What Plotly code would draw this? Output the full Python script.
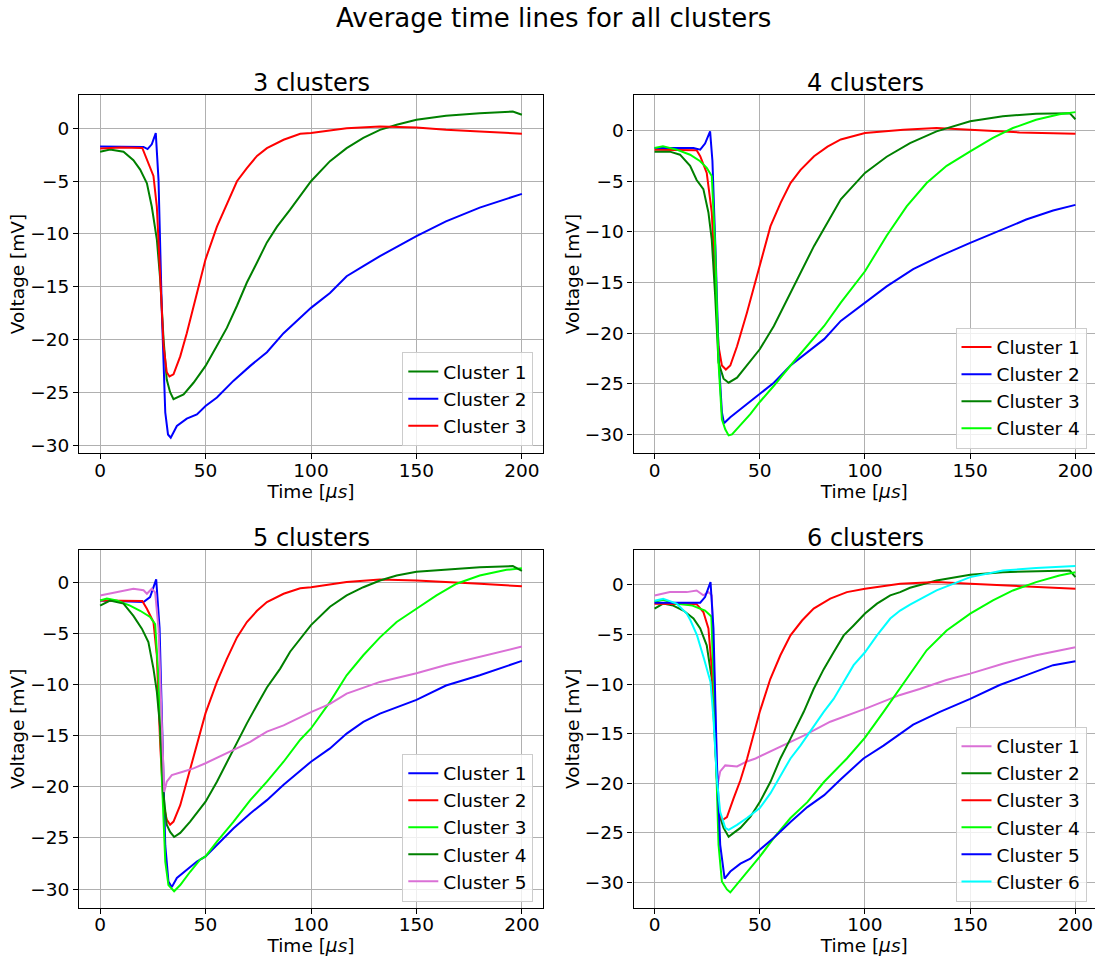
import plotly.graph_objects as go

# ---------------- data ----------------
# Panel 1: 3 clusters
P1_C1_T = [0, 4.7, 11.1, 15.8, 19, 22.2, 24.5, 26.9, 28.5, 30.1, 31.6, 33.2, 34.8, 36.4, 39.6, 44.3, 50, 55.4, 60.1, 64.9, 69.6, 74.4, 79.1, 83.9, 90.1, 100, 109, 116.9, 124.8, 132.7, 140.6, 150, 164, 180, 195.7, 200]
P1_C1_V = [-2.2, -2.0, -2.2, -3.0, -3.9, -5.2, -7.4, -10.5, -14.3, -20.0, -23.8, -25.0, -25.65, -25.5, -25.2, -24.1, -22.5, -20.6, -18.9, -16.8, -14.6, -12.7, -10.8, -9.3, -7.7, -5.0, -3.1, -1.86, -0.9, -0.13, 0.35, 0.82, 1.2, 1.45, 1.6, 1.3]
P1_C2_T = [0, 20.6, 22.5, 24.5, 26.4, 27.7, 29.3, 30.9, 32.2, 33.5, 36.4, 41.1, 45.9, 50, 55.4, 63.3, 71.2, 79.1, 87, 100, 109, 116.9, 124.8, 132.7, 150, 164, 180, 200]
P1_C2_V = [-1.7, -1.75, -1.95, -1.5, -0.44, -4.85, -17.5, -26.9, -29.0, -29.3, -28.2, -27.5, -27.1, -26.3, -25.5, -23.9, -22.5, -21.2, -19.4, -17.0, -15.6, -14.0, -13.05, -12.1, -10.2, -8.8, -7.5, -6.2]
P1_C3_T = [0, 10, 20, 22.2, 25.3, 26.9, 28.5, 30.1, 31.6, 32.9, 34.8, 38, 41.1, 44.3, 47.5, 50, 55.4, 60.1, 64.9, 69.6, 74.4, 79.1, 87, 94.9, 100, 116.9, 132.7, 150, 164, 180, 200]
P1_C3_V = [-1.9, -1.8, -1.85, -3.0, -4.5, -7.4, -14.3, -20.6, -23.1, -23.5, -23.3, -21.6, -19.4, -16.8, -14.3, -12.4, -9.3, -7.1, -5.0, -3.75, -2.6, -1.86, -1.07, -0.5, -0.44, 0.03, 0.19, 0.1, -0.13, -0.28, -0.5]

# Panel 2: 4 clusters
P2_C1_T = [0, 10, 20, 21.7, 24.8, 27.2, 28.8, 30.4, 32, 33.9, 36, 39.2, 43.9, 50, 55.1, 59.9, 64.6, 69.4, 75.8, 82.2, 88.5, 100, 118.2, 134, 150, 173.4, 200]
P2_C1_V = [-1.9, -1.9, -1.95, -2.55, -4.2, -8.1, -14.7, -21.3, -23.2, -23.6, -23.2, -21.3, -18.0, -13.4, -9.45, -7.15, -5.2, -3.9, -2.55, -1.6, -0.9, -0.26, 0.07, 0.23, 0.07, -0.2, -0.33]
P2_C2_T = [0, 18.5, 21.7, 24, 26.4, 27.5, 29, 30.5, 32, 33, 36, 40.8, 45.5, 50, 56.7, 64.6, 72.6, 80.6, 88.5, 100, 110.3, 122.9, 135.6, 150, 164, 176.6, 189.4, 200]
P2_C2_V = [-1.74, -1.75, -1.9, -1.3, -0.1, -3.0, -12.0, -22.5, -27.8, -28.9, -28.3, -27.5, -26.8, -26.0, -24.9, -23.2, -21.9, -20.6, -18.8, -17.0, -15.4, -13.7, -12.4, -11.1, -9.9, -8.8, -7.9, -7.35]
P2_C3_T = [0, 7.3, 12.1, 16.9, 20, 23.2, 25.6, 27.2, 28.8, 30.4, 32.8, 35.2, 39.2, 43.9, 50, 56.7, 63.1, 69.4, 75.8, 82.2, 88.5, 100, 110.3, 121.4, 134, 150, 165.5, 181.3, 197.3, 200]
P2_C3_V = [-2.1, -2.1, -2.4, -3.5, -4.9, -5.8, -8.1, -10.8, -16.3, -22.9, -24.5, -24.9, -24.4, -23.2, -21.6, -19.3, -16.7, -14.0, -11.4, -9.1, -6.8, -4.2, -2.6, -1.25, -0.1, 0.9, 1.4, 1.64, 1.7, 1.1]
P2_C4_T = [0, 4, 10.5, 16.9, 21.7, 24.8, 27.2, 28.8, 30.4, 32, 33.6, 35.2, 36.8, 40.8, 45.5, 50, 56.7, 64.6, 72.6, 80.6, 88.5, 100, 110.3, 119.8, 129.3, 138.8, 150, 160.8, 170.3, 181.3, 192.4, 200]
P2_C4_V = [-1.74, -1.58, -1.9, -2.4, -3.05, -3.7, -4.5, -11.4, -22.9, -28.5, -29.5, -30.1, -30.0, -29.1, -28.0, -26.8, -25.2, -23.2, -21.3, -19.3, -17.0, -13.9, -10.4, -7.5, -5.2, -3.5, -2.07, -0.75, 0.23, 1.05, 1.6, 1.8]

# Panel 3: 5 clusters
P3_C1_T = [0, 20.6, 23.7, 26.6, 28.2, 29.3, 30.9, 32.4, 34, 36.4, 41.1, 45.9, 50, 55.4, 63.3, 71.2, 79.1, 87, 100, 109, 116.9, 124.8, 132.7, 150, 164, 180, 200]
P3_C1_V = [-1.8, -1.95, -1.46, 0.26, -4.5, -14.3, -25.7, -29.25, -29.8, -28.9, -28.1, -27.3, -26.8, -25.7, -24.05, -22.6, -21.3, -19.8, -17.55, -16.25, -14.8, -13.65, -12.85, -11.5, -10.1, -9.1, -7.7]
P3_C2_T = [0, 10, 20, 22.2, 25.3, 26.9, 28.5, 30.1, 31.6, 33.2, 34.8, 38, 41.1, 44.3, 47.5, 50, 55.4, 60.1, 64.9, 69.6, 74.4, 79.1, 87, 94.9, 100, 116.9, 132.7, 150, 180, 200]
P3_C2_V = [-1.8, -1.8, -1.85, -2.6, -3.9, -7.15, -15.9, -21.8, -23.2, -23.7, -23.4, -21.8, -19.5, -17.2, -14.6, -12.8, -9.75, -7.5, -5.4, -3.9, -2.8, -1.95, -1.14, -0.6, -0.5, 0.0, 0.26, 0.16, -0.16, -0.4]
P3_C3_T = [0, 3.2, 7.9, 14.2, 19, 23.7, 26.1, 27.7, 29.3, 30.9, 32.4, 34, 35.1, 38, 42.7, 47.5, 50, 55.4, 63.3, 71.2, 79.1, 87, 94.9, 100, 109, 116.9, 124.8, 132.7, 140.6, 150, 159.5, 169, 180, 192.7, 200]
P3_C3_V = [-1.8, -1.6, -1.8, -2.3, -2.8, -3.4, -4.1, -9.4, -19.2, -27.3, -29.6, -30.0, -30.2, -29.6, -28.3, -27.1, -26.8, -25.35, -23.4, -21.3, -19.5, -17.55, -15.4, -14.3, -11.7, -9.1, -7.15, -5.4, -3.9, -2.6, -1.3, -0.16, 0.65, 1.2, 1.36]
P3_C4_T = [0, 4.7, 11.1, 15.8, 19.8, 22.9, 25.3, 26.9, 28.5, 30.1, 31.6, 33.2, 35.1, 38, 42.7, 47.5, 50, 55.4, 60.1, 64.9, 69.6, 74.4, 79.1, 85.4, 90.1, 100, 109, 116.9, 124.8, 132.7, 140.6, 150, 164, 180, 195.7, 200]
P3_C4_V = [-2.3, -1.8, -2.1, -3.3, -4.55, -5.85, -8.45, -10.7, -14.3, -20.8, -23.7, -24.4, -24.9, -24.5, -23.4, -22.1, -21.45, -19.5, -17.6, -15.6, -13.8, -12.0, -10.3, -8.45, -6.8, -4.2, -2.4, -1.3, -0.5, 0.16, 0.65, 1.0, 1.2, 1.45, 1.56, 1.1]
P3_C5_T = [0, 7.9, 15.8, 20.6, 22.2, 24.5, 26.1, 27.7, 29.3, 30.4, 31.6, 34, 39.6, 44.3, 50, 55.4, 63.3, 71.2, 79.1, 87, 94.9, 100, 109, 116.9, 132.7, 150, 164, 180, 200]
P3_C5_V = [-1.3, -1.0, -0.65, -0.8, -1.14, -0.65, -1.0, -4.55, -14.3, -20.5, -19.5, -18.85, -18.5, -18.2, -17.7, -17.2, -16.4, -15.6, -14.6, -14.0, -13.2, -12.7, -11.9, -10.9, -9.75, -8.9, -8.1, -7.3, -6.3]

# Panel 4: 6 clusters
P4_C1_T = [0, 7.3, 15.3, 20, 23.2, 25.6, 27.2, 28.8, 29.9, 31.2, 33.6, 39.2, 43.9, 48, 59.8, 70.9, 83.5, 100, 116.7, 126, 138.6, 150, 165.5, 181.3, 200]
P4_C1_V = [-1.07, -0.74, -0.74, -0.57, -1.07, -0.74, -1.07, -11.1, -20.2, -18.8, -18.2, -18.3, -17.8, -17.5, -16.3, -15.2, -13.8, -12.5, -11.1, -10.5, -9.6, -8.95, -7.95, -7.1, -6.3]
P4_C2_T = [0, 4.1, 8.9, 13.7, 18.5, 21.7, 24.8, 27.2, 28.8, 30.4, 32.8, 35.2, 37.6, 40.8, 45.5, 50, 55.1, 59.8, 64.6, 70.9, 75.6, 80.4, 85.1, 89.9, 94.6, 100, 105.7, 112, 116.7, 121.4, 134, 150, 165.5, 181.3, 197.3, 200]
P4_C2_V = [-2.4, -1.9, -2.1, -2.6, -3.4, -4.4, -6.1, -9.45, -16.2, -22.9, -24.5, -25.4, -25.0, -24.5, -23.4, -21.9, -19.85, -17.5, -15.5, -12.8, -10.5, -8.5, -6.8, -5.1, -4.1, -2.9, -1.9, -1.07, -0.74, -0.3, 0.44, 1.0, 1.27, 1.34, 1.44, 0.77]
P4_C3_T = [0, 10, 20, 23.2, 25.6, 27.2, 28.8, 30.4, 32.3, 34.4, 37.6, 40.8, 44, 50, 55, 59.8, 64.6, 70.1, 75.6, 83.5, 91.4, 100, 116.7, 134, 150, 173.4, 200]
P4_C3_V = [-1.9, -1.9, -1.95, -2.75, -4.4, -8.45, -16.2, -22.9, -23.7, -23.4, -21.5, -19.7, -17.5, -12.8, -9.5, -7.1, -5.1, -3.6, -2.4, -1.4, -0.74, -0.4, 0.1, 0.27, 0.1, -0.13, -0.4]
P4_C4_T = [0, 4, 10, 18, 24, 27, 28.8, 30.4, 32, 34.4, 36, 39.2, 43.9, 50, 56.7, 64.6, 72.6, 80.6, 91.4, 100, 108.8, 116.7, 129.3, 138.8, 150, 160.8, 170.3, 181.3, 192.4, 200]
P4_C4_V = [-1.7, -1.5, -1.9, -2.1, -2.6, -3.2, -14.5, -26.2, -29.9, -30.7, -31.0, -30.2, -29.0, -27.4, -25.5, -23.5, -21.9, -19.85, -17.5, -15.4, -12.8, -10.4, -6.6, -4.6, -2.9, -1.57, -0.57, 0.27, 0.94, 1.27]
P4_C5_T = [0, 18.5, 21.7, 24, 26.6, 28, 29.6, 31.2, 33.3, 36, 40.8, 45.5, 50, 56.7, 64.6, 72.6, 80.6, 88.5, 99.3, 108.8, 116.7, 122.9, 135.6, 150, 164, 176.6, 189.4, 200]
P4_C5_V = [-1.8, -1.8, -1.8, -1.24, 0.27, -4.4, -17.8, -26.2, -29.6, -28.9, -28.1, -27.6, -26.7, -25.5, -23.9, -22.4, -21.2, -19.6, -17.5, -16.2, -15.0, -14.1, -12.8, -11.5, -10.1, -9.1, -8.1, -7.7]
P4_C6_T = [0, 4.1, 10.5, 15.3, 17.1, 20.2, 23.5, 26.6, 28, 29.6, 31.2, 33.6, 35.2, 39.2, 43.9, 50, 55.1, 59.9, 64.6, 69.3, 74.8, 80.4, 85.1, 89.9, 94.6, 100, 105.7, 112, 116.7, 121.4, 134, 150, 165.5, 181.3, 200]
P4_C6_V = [-1.6, -1.4, -1.9, -2.9, -3.6, -5.1, -7.45, -9.8, -13.5, -19.5, -22.9, -24.5, -24.7, -24.2, -23.5, -22.5, -21.0, -19.3, -17.5, -16.2, -14.5, -12.8, -11.5, -9.8, -8.1, -6.8, -5.1, -3.4, -2.6, -2.0, -0.57, 0.77, 1.44, 1.68, 1.88]

X_TICKS = [0, 50, 100, 150, 200]
PANEL_TITLES = ["3 clusters", "4 clusters", "5 clusters", "6 clusters"]

GREEN, BLUE, RED, LIME, ORCHID, CYAN = "#008000", "#0000ff", "#ff0000", "#00ff00", "#da70d6", "#00ffff"

PANELS = [
    [(P1_C1_T, P1_C1_V, "Cluster 1", GREEN), (P1_C2_T, P1_C2_V, "Cluster 2", BLUE), (P1_C3_T, P1_C3_V, "Cluster 3", RED)],
    [(P2_C1_T, P2_C1_V, "Cluster 1", RED), (P2_C2_T, P2_C2_V, "Cluster 2", BLUE), (P2_C3_T, P2_C3_V, "Cluster 3", GREEN), (P2_C4_T, P2_C4_V, "Cluster 4", LIME)],
    [(P3_C1_T, P3_C1_V, "Cluster 1", BLUE), (P3_C2_T, P3_C2_V, "Cluster 2", RED), (P3_C3_T, P3_C3_V, "Cluster 3", LIME), (P3_C4_T, P3_C4_V, "Cluster 4", GREEN), (P3_C5_T, P3_C5_V, "Cluster 5", ORCHID)],
    [(P4_C1_T, P4_C1_V, "Cluster 1", ORCHID), (P4_C2_T, P4_C2_V, "Cluster 2", GREEN), (P4_C3_T, P4_C3_V, "Cluster 3", RED), (P4_C4_T, P4_C4_V, "Cluster 4", LIME), (P4_C5_T, P4_C5_V, "Cluster 5", BLUE), (P4_C6_T, P4_C6_V, "Cluster 6", CYAN)],
]

# ---------------- layout geometry ----------------
W, H = 1095, 960
FONT = "DejaVu Sans, Liberation Sans, sans-serif"
XDOM = [[79 / W, 543 / W], [633.5 / W, 1.0], [79 / W, 543 / W], [633.5 / W, 1.0]]
YDOM = [[1 - 454.3 / H, 1 - 95 / H], [1 - 454.3 / H, 1 - 95 / H], [1 - 910 / H, 1 - 550.7 / H], [1 - 910 / H, 1 - 550.7 / H]]
XRANGE = [[-10, 210], [-10, 209.3], [-10, 210], [-10, 209.3]]
YRANGE = [[-30.79, 3.19], [-31.87, 3.51], [-31.85, 3.18], [-32.58, 3.55]]
LEG_POS = [(533.3 / W, 1 - 447 / H), (1086.5 / W, 1 - 449.5 / H), (533.3 / W, 1 - 903.5 / H), (1086.5 / W, 1 - 903.5 / H)]
TITLE_POS = [((79 + 543) / 2 / W, 1 - 83.5 / H), ((633.5 + 1096.5) / 2 / W, 1 - 83.5 / H),
             ((79 + 543) / 2 / W, 1 - 539 / H), ((633.5 + 1096.5) / 2 / W, 1 - 539 / H)]

fig = go.Figure()
layout = dict(
    width=W, height=H, margin=dict(l=0, r=0, t=0, b=0),
    paper_bgcolor="white", plot_bgcolor="white",
    font=dict(family=FONT, size=18.5, color="black"),
    showlegend=True,
)

annotations = [dict(text="Average time lines for all clusters", x=553 / W, y=1 - 18 / H, xref="paper", yref="paper",
                    xanchor="center", yanchor="middle", showarrow=False, font=dict(size=26, color="black", family=FONT))]

for i, series in enumerate(PANELS):
    n = i + 1
    xa = "x" if n == 1 else f"x{n}"
    ya = "y" if n == 1 else f"y{n}"
    lg = "legend" if n == 1 else f"legend{n}"
    for t, v, name, color in series:
        fig.add_trace(go.Scatter(x=t, y=v, mode="lines", name=name, line=dict(color=color, width=2),
                                 xaxis=xa, yaxis=ya, legend=lg))
    common = dict(showgrid=True, gridcolor="#b0b0b0", gridwidth=1.1, zeroline=False, showline=True,
                  linecolor="black", linewidth=1.1, ticks="outside", ticklen=5, tickwidth=1.1,
                  tickcolor="black", tickfont=dict(size=18.5, color="black", family=FONT))
    layout["xaxis" if n == 1 else f"xaxis{n}"] = dict(
        common, domain=XDOM[i], range=XRANGE[i], tickvals=X_TICKS, anchor=ya, mirror=True,
        title=dict(text="Time [<i>μs</i>]", standoff=2, font=dict(size=18.5, color="black", family=FONT)))
    layout["yaxis" if n == 1 else f"yaxis{n}"] = dict(
        common, domain=YDOM[i], range=YRANGE[i], tick0=0, dtick=5, anchor=xa, mirror=(n in (1, 3)),
        title=dict(text="Voltage [mV]", standoff=0, font=dict(size=18.5, color="black", family=FONT)))
    layout[lg] = dict(x=LEG_POS[i][0], y=LEG_POS[i][1], xanchor="right", yanchor="bottom",
                      bgcolor="rgba(255,255,255,0.8)", bordercolor="#cccccc", borderwidth=1,
                      font=dict(size=18.5, color="black", family=FONT), tracegroupgap=0)
    annotations.append(dict(text=PANEL_TITLES[i], x=TITLE_POS[i][0], y=TITLE_POS[i][1], xref="paper", yref="paper",
                            xanchor="center", yanchor="middle", showarrow=False,
                            font=dict(size=24, color="black", family=FONT)))

layout["annotations"] = annotations
fig.update_layout(**layout)

# pull the x tick labels closer to the axis, as in the reference
for name in ["xaxis", "xaxis2", "xaxis3", "xaxis4"]:
    try:
        fig.layout[name].ticklabelstandoff = -5
    except Exception:
        pass

fig.write_html("out.html", config={"displayModeBar": False},
               post_script="document.body.style.margin='0px';")
